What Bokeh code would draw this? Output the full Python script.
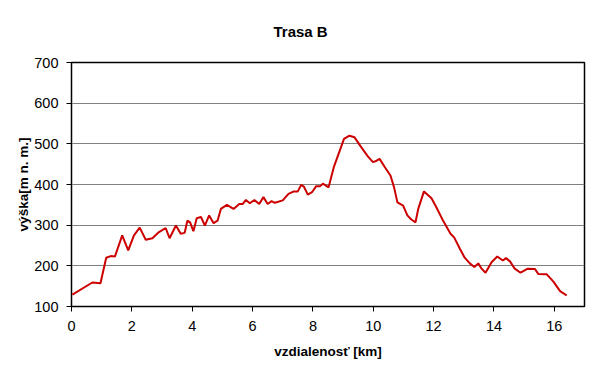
from bokeh.plotting import figure
from bokeh.models import Range1d, FixedTicker, Title
from bokeh.embed import file_html
from bokeh.resources import INLINE

distance_km = [0.03, 0.69, 0.96, 1.15, 1.30, 1.44, 1.68, 1.88, 2.07, 2.26, 2.46, 2.68, 2.90, 3.12,
               3.25, 3.46, 3.62, 3.75, 3.84, 3.93, 4.04, 4.15, 4.29, 4.42, 4.56, 4.71, 4.84, 4.95,
               5.15, 5.37, 5.56, 5.67, 5.78, 5.91, 6.06, 6.22, 6.36, 6.50, 6.63, 6.74, 7.00, 7.19,
               7.37, 7.50, 7.61, 7.70, 7.83, 7.97, 8.11, 8.24, 8.33, 8.52, 8.69, 8.83, 9.03, 9.21,
               9.38, 9.60, 9.82, 9.99, 10.07, 10.21, 10.38, 10.57, 10.69, 10.80, 10.99, 11.13,
               11.26, 11.40, 11.49, 11.68, 11.93, 12.09, 12.32, 12.56, 12.68, 12.87, 13.03, 13.20,
               13.35, 13.48, 13.59, 13.72, 13.92, 14.11, 14.29, 14.40, 14.53, 14.69, 14.88, 15.12,
               15.36, 15.47, 15.75, 15.97, 16.19, 16.41]
elevation_m = [129, 159, 157, 220, 224, 223, 275, 238, 275, 294, 264, 268, 283, 293,
               268, 299, 279, 281, 311, 307, 285, 317, 320, 299, 324, 305, 311, 340,
               350, 340, 352, 352, 362, 354, 362, 352, 369, 352, 359, 355, 361, 377,
               383, 383, 399, 395, 375, 381, 396, 396, 402, 393, 442, 471, 512, 520,
               516, 492, 469, 455, 457, 463, 443, 422, 393, 356, 348, 324,
               314, 307, 340, 383, 366, 344, 310, 279, 270, 242, 220, 206,
               197, 206, 193, 183, 209, 223, 213, 219, 211, 193, 183, 193,
               192, 180, 179, 161, 138, 127]
x_ticks = [0, 2, 4, 6, 8, 10, 12, 14, 16]
y_ticks = [100, 200, 300, 400, 500, 600, 700]

FONT = "Liberation Sans"

p = figure(width=592, height=364, output_backend="svg", toolbar_location=None,
           x_range=Range1d(0, 17), y_range=Range1d(100, 700),
           min_border_left=71, min_border_right=8, min_border_top=62, min_border_bottom=58)

t = Title(text="Trasa B", align="left", offset=202, vertical_align="top", text_font=FONT,
          text_font_size="15px", text_font_style="bold", text_color="black", standoff=42)
p.add_layout(t, "above")

p.line(distance_km, elevation_m, line_color="#CC0000", line_width=2)

p.outline_line_color="black"
p.outline_line_width=1.5
p.background_fill_color="white"
p.border_fill_color="white"

p.xgrid.grid_line_color=None
p.ygrid.grid_line_color="#808080"
p.ygrid.grid_line_width=1

p.xaxis.ticker = FixedTicker(ticks=x_ticks)
p.yaxis.ticker = FixedTicker(ticks=y_ticks)
for ax in (p.xaxis, p.yaxis):
    ax.minor_tick_line_color=None
    ax.major_tick_in=0
    ax.major_tick_out=5
    ax.major_tick_line_color="black"
    ax.axis_line_color="black"
    ax.major_label_text_font=FONT
    ax.major_label_text_font_size="14.5px"
    ax.major_label_text_color="black"
    ax.axis_label_text_font=FONT
    ax.axis_label_text_font_size="13.5px"
    ax.axis_label_text_font_style="bold"
    ax.axis_label_text_color="black"

p.xaxis.axis_label = "vzdialenosť [km]"
p.yaxis.axis_label = "výška[m n. m.]"
p.xaxis.major_label_standoff = 9
p.xaxis.axis_label_standoff = 10
p.yaxis.major_label_standoff = 8
p.yaxis.axis_label_standoff = 0

open("out.html", "w").write(file_html(p, INLINE))
